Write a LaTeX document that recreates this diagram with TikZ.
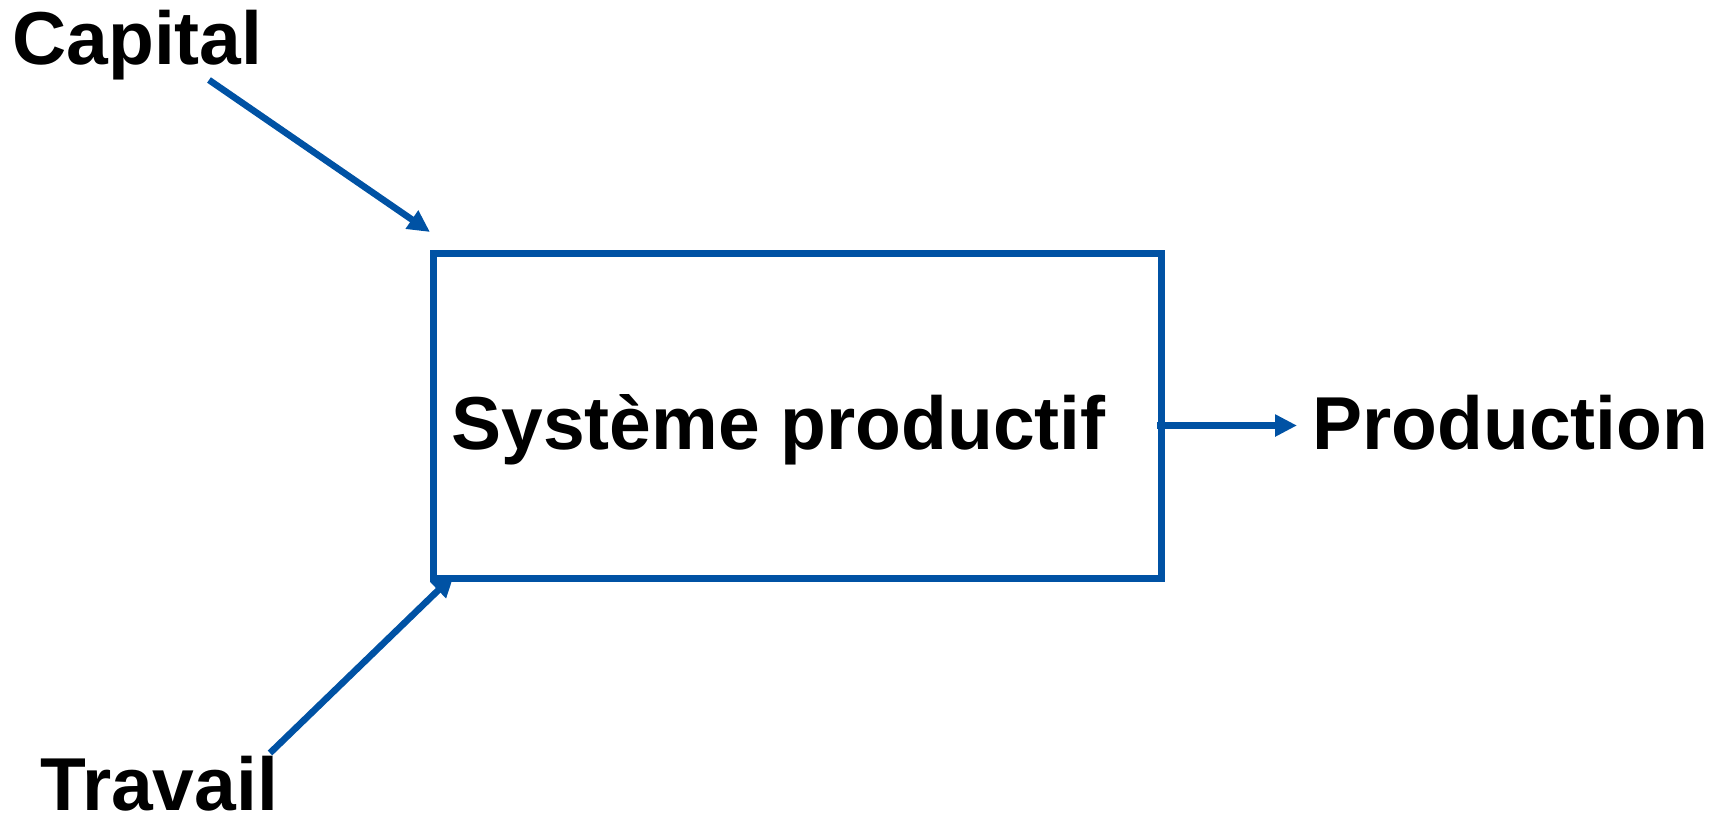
\documentclass[tikz,border=0pt]{standalone}
\usepackage{fontspec}
\setmainfont{Liberation Sans}
\usetikzlibrary{arrows.meta}
\definecolor{arrowblue}{RGB}{0,82,164}
\begin{document}
\begin{tikzpicture}[x=0.5pt,y=-0.5pt,
  lbl/.style={font=\fontsize{37.5pt}{45pt}\selectfont\bfseries, inner sep=0pt, anchor=base west, text=black},
  boxstyle/.style={draw=arrowblue, line width=3.5pt, inner sep=0pt, minimum width=364pt, minimum height=162.5pt},
  arr/.style={draw=arrowblue, line width=3.3pt, -{Triangle[length=11pt,width=10.5pt]}}]
\useasboundingbox (0,0) rectangle (1724,815);
\node[boxstyle] (box) at (797,416) {};
\node[lbl] (cap) at (12,64) {Capital};
\node[lbl] (trav) at (40,810) {Travail};
\node[lbl] (prod) at (1312,449) {Production};
\node[lbl] (sys) at (451,449) {Système productif};
\coordinate (capstart) at (209,80);
\coordinate (capend) at (430,232);
\coordinate (travstart) at (270,753);
\coordinate (travend) at (454,575);
\coordinate (prodstart) at (1157,425.5);
\coordinate (prodend) at (1297,425.5);
\draw[arr] (capstart) -- (capend);
\draw[arr] (travstart) -- (travend);
\draw[arr] (prodstart) -- (prodend);
\end{tikzpicture}
\end{document}
